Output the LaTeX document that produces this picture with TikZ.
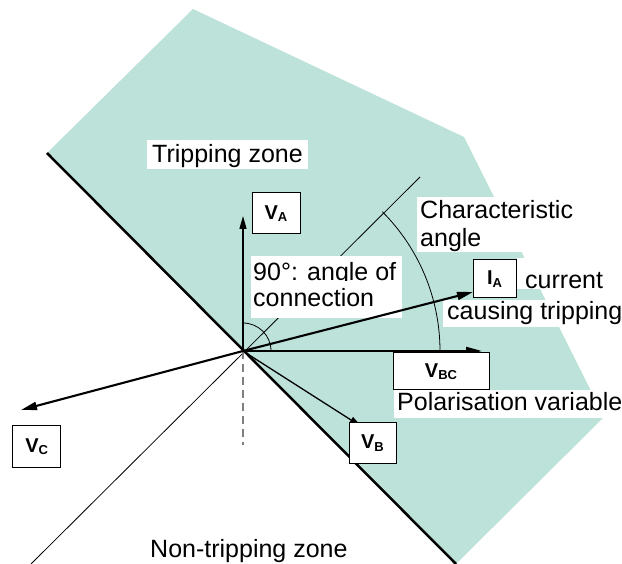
\documentclass[tikz,border=0pt]{standalone}
\usepackage{fontspec}
\setmainfont{Liberation Sans}
\usetikzlibrary{arrows.meta}
\definecolor{zone}{RGB}{189,226,218}
\newcommand\vsub[2]{#1\raisebox{-2.5pt}{\fontsize{13}{13}\selectfont #2}}
\begin{document}
\begin{tikzpicture}[x=1pt,y=-1pt,
  txt/.style={font=\fontsize{25}{30}\selectfont, anchor=base west, inner ysep=0pt},
  wtxt/.style={txt, fill=white},
  vbox/.style={draw=black, line width=1pt, fill=white, inner sep=0pt,
    font=\fontsize{20}{22}\selectfont\bfseries},
  vec/.style={line width=2.1pt, -{Triangle[length=16pt,width=8pt]}},
  thinvec/.style={line width=1.3pt, -{Triangle[length=13pt,width=7pt]}},
  thin/.style={line width=0.8pt}]
\useasboundingbox (0,0) rectangle (622,564);
% zone
\coordinate (O) at (243,351);
\coordinate (bA) at (47,153);
\coordinate (bB) at (456,564);
\fill[zone] (bA) -- (193,9) -- (464,137) -- (604,417) -- (bB) -- cycle;
% boundary and reference lines
\draw[line width=2.5pt] (bA) -- (bB);
\coordinate (cl1) at (31,564);
\coordinate (cl2) at (420,177);
\draw[thin] (cl1) -- (cl2);
\draw[gray, line width=1.5pt, dash pattern=on 8pt off 5pt] (O) -- (243,445);
\draw[thin] (O) ++(197,0) arc[start angle=0, end angle=-45, radius=197];
\draw[thin] (O) ++(28,0) arc[start angle=0, end angle=-90, radius=28];
% labels
\node[wtxt, inner xsep=5pt, text height=23pt, text depth=6pt] (tz) at (147,163) {Tripping zone\hspace{8pt}};
\node[wtxt, inner xsep=2pt, text height=25pt, text depth=0pt] (ang1) at (251,281) {\makebox[147pt][l]{90°: angle of}};
\node[wtxt, inner xsep=2pt, text height=26pt, text depth=11pt] (ang2) at (251,307) {\makebox[147pt][l]{connection}};
\node[wtxt, inner xsep=3pt, text height=22pt, text depth=0pt] (ch1) at (417,219) {\makebox[153pt][l]{Characteristic}};
\node[wtxt, inner xsep=3pt, text height=28pt, text depth=5pt] (ch2) at (417,247) {\makebox[153pt][l]{angle}};
\node[wtxt, inner xsep=8pt, text height=31pt, text depth=0pt] (cur1) at (517,289) {current};
\node[wtxt, inner xsep=4pt, text height=20pt, text depth=7pt] (cur2) at (443,320) {causing tripping};
\node[wtxt, inner xsep=3pt, text height=21pt, text depth=7pt] (pol) at (394,411) {Polarisation variable};
\node[txt, inner xsep=0pt] (ntz) at (150,557) {Non-tripping zone};
% vectors
\coordinate (tVA) at (243,216);
\coordinate (tIA) at (473,292);
\coordinate (tVBC) at (482,351);
\coordinate (tVC) at (21,410);
\coordinate (tVB) at (362,427);
\draw[thinvec] (O) -- (tVA);
\draw[vec] (O) -- (tIA);
\draw[vec] (O) -- (tVBC);
\draw[vec] (O) -- (tVC);
\draw[thinvec] (O) -- (tVB);
% vector boxes
\node[vbox, minimum width=48pt, minimum height=41pt] (VA) at (276,213.5) {\vsub{V}{A}};
\node[vbox, minimum width=43pt, minimum height=38pt] (IA) at (494.5,279) {\vsub{I}{A}};
\node[vbox, minimum width=96pt, minimum height=37pt] (VBC) at (441,371.5) {\vsub{V}{BC}};
\node[vbox, minimum width=47pt, minimum height=40pt] (VB) at (372.5,443) {\vsub{V}{B}};
\node[vbox, minimum width=48pt, minimum height=41pt] (VC) at (36.7,446.5) {\vsub{V}{C}};
\end{tikzpicture}
\end{document}
